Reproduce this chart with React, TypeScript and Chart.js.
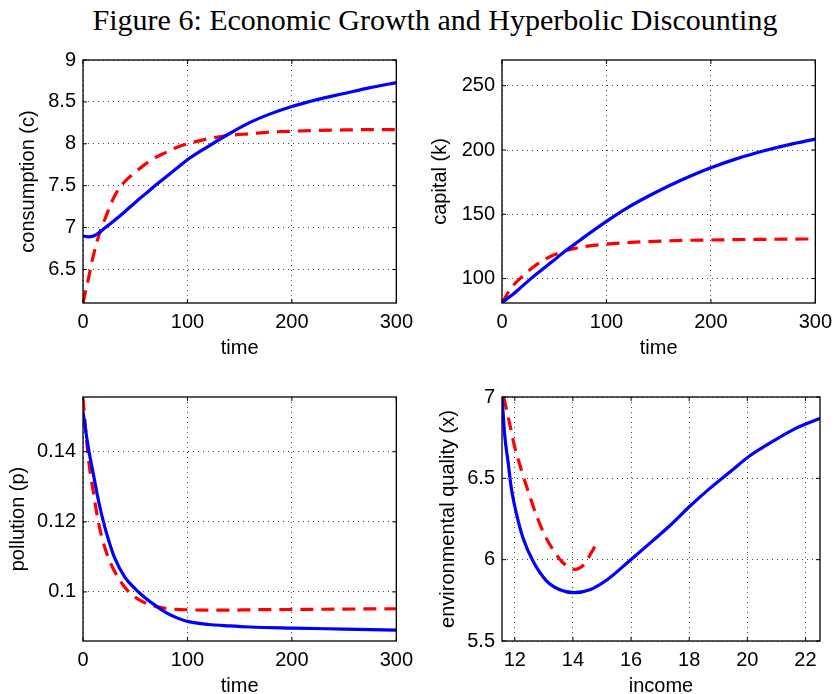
import React, { useEffect, useRef } from 'react';
import { Chart, registerables } from 'chart.js';

Chart.register(...registerables);

const FIGURE_TITLE = 'Figure 6: Economic Growth and Hyperbolic Discounting';

// ---- Panel 1: consumption vs time ----
const timeC = [0, 5, 10, 15, 20, 30, 40, 50, 60, 70, 80, 90, 100, 120, 140, 160, 180, 200, 225, 250, 275, 300];
const consumptionSolid = [6.9, 6.89, 6.9, 6.935, 6.985, 7.085, 7.19, 7.3, 7.405, 7.51, 7.61, 7.71, 7.81, 7.97, 8.12, 8.255, 8.36, 8.445, 8.53, 8.6, 8.67, 8.73];
const consumptionDashed = [6.1, 6.38, 6.67, 6.9, 7.07, 7.37, 7.55, 7.66, 7.76, 7.84, 7.9, 7.96, 8.0, 8.06, 8.1, 8.12, 8.14, 8.15, 8.16, 8.165, 8.17, 8.17];
const consumptionTicks = [6.5, 7, 7.5, 8, 8.5, 9];

// ---- Panel 2: capital vs time ----
const timeK = [0, 5, 10, 20, 30, 40, 50, 60, 70, 80, 100, 120, 140, 160, 180, 200, 225, 250, 275, 300];
const capitalSolid = [81, 84.5, 87.5, 94.5, 101.5, 108, 114.5, 121, 127, 133, 144.5, 155, 164, 172.2, 179.6, 186.2, 193.3, 199.2, 204.2, 208.5];
const capitalDashed = [81, 88, 94, 102, 109, 114.5, 118.5, 121.5, 123.5, 125, 126.8, 128, 128.8, 129.4, 129.8, 130, 130.3, 130.5, 130.7, 130.8];
const capitalTicks = [100, 150, 200, 250];

// ---- Panel 3: pollution vs time ----
const timeP = [0, 5, 10, 15, 20, 25, 30, 40, 50, 60, 70, 80, 90, 100, 120, 140, 160, 200, 250, 300];
const pollutionSolid = [0.1515, 0.1413, 0.1335, 0.1258, 0.1195, 0.1143, 0.1099, 0.1042, 0.1009, 0.0982, 0.096, 0.094, 0.0926, 0.0916, 0.0907, 0.0903, 0.09, 0.0897, 0.0894, 0.0891];
const pollutionDashed = [0.1553, 0.1385, 0.1283, 0.1195, 0.1135, 0.1092, 0.106, 0.1013, 0.0985, 0.0968, 0.0958, 0.0953, 0.095, 0.0949, 0.0948, 0.0948, 0.0949, 0.095, 0.0951, 0.0952];
const pollutionTicks = [0.1, 0.12, 0.14];

// ---- Panel 4: environmental quality vs income ----
const incomeSolid = [11.56, 11.6, 11.65, 11.77, 11.88, 12.06, 12.28, 12.63, 13.09, 13.55, 14.05, 14.58, 15.2, 15.99, 16.77, 17.34, 18.03, 18.72, 19.41, 20.1, 20.9, 21.7, 22.52];
const qualitySolid = [7.0, 6.9, 6.77, 6.6, 6.44, 6.28, 6.135, 5.99, 5.87, 5.815, 5.797, 5.815, 5.88, 6.0, 6.12, 6.21, 6.33, 6.44, 6.54, 6.64, 6.73, 6.81, 6.87];
const incomeDashed = [11.62, 11.83, 12.0, 12.23, 12.46, 12.75, 13.03, 13.32, 13.61, 13.85, 14.05, 14.24, 14.4, 14.53, 14.62, 14.72, 14.76];
const qualityDashed = [7.0, 6.83, 6.69, 6.55, 6.42, 6.27, 6.15, 6.06, 5.99, 5.955, 5.94, 5.95, 5.975, 6.01, 6.04, 6.07, 6.085];
const qualityTicks = [5.5, 6, 6.5, 7];

const timeTicks = [0, 100, 200, 300];
const incomeTicks = [12, 14, 16, 18, 20, 22];

const FONT = '"Liberation Sans", Arial, Helvetica, sans-serif';

const framePlugin = {
  id: 'matlabFrame',
  afterDraw(chart: any) {
    const { ctx, chartArea } = chart;
    const { left, top, right, bottom } = chartArea;
    const xs = chart.scales.x;
    const ys = chart.scales.y;
    ctx.save();
    ctx.strokeStyle = '#000';
    ctx.lineWidth = 1.3;
    ctx.setLineDash([]);
    ctx.strokeRect(left, top, right - left, bottom - top);
    ctx.lineWidth = 1;
    const tl = 4;
    ctx.beginPath();
    xs.ticks.forEach((t: any) => {
      const px = xs.getPixelForValue(t.value);
      ctx.moveTo(px, bottom);
      ctx.lineTo(px, bottom - tl);
      ctx.moveTo(px, top);
      ctx.lineTo(px, top + tl);
    });
    ys.ticks.forEach((t: any) => {
      const py = ys.getPixelForValue(t.value);
      ctx.moveTo(left, py);
      ctx.lineTo(left + tl, py);
      ctx.moveTo(right, py);
      ctx.lineTo(right - tl, py);
    });
    ctx.stroke();
    ctx.restore();
  },
};

type PanelProps = {
  left: number;
  top: number;
  height: number;
  solidX: number[];
  solidY: number[];
  dashedX: number[];
  dashedY: number[];
  xMin: number;
  xMax: number;
  yMin: number;
  yMax: number;
  xTicks: number[];
  yTicks: number[];
  xTitle: string;
  yTitle: string;
  yTitlePad: number;
};

function Panel(p: PanelProps) {
  const ref = useRef<HTMLCanvasElement | null>(null);
  useEffect(() => {
    if (!ref.current) return;
    const toPts = (xs: number[], ys: number[]) => xs.map((x, i) => ({ x, y: ys[i] }));
    const chart = new Chart(ref.current, {
      type: 'line',
      data: {
        datasets: [
          {
            data: toPts(p.solidX, p.solidY),
            borderColor: '#0000ff',
            borderWidth: 3.2,
            pointRadius: 0,
            cubicInterpolationMode: 'monotone',
            fill: false,
            order: 0,
          },
          {
            data: toPts(p.dashedX, p.dashedY),
            borderColor: '#ff0000',
            borderWidth: 3.2,
            borderDash: [13, 8],
            pointRadius: 0,
            cubicInterpolationMode: 'monotone',
            fill: false,
            order: 1,
          },
        ],
      },
      options: {
        responsive: false,
        animation: false,
        events: [],
        layout: { padding: { left: 0, top: 20, right: 19, bottom: 0 } },
        plugins: { legend: { display: false }, tooltip: { enabled: false }, title: { display: false } },
        scales: {
          x: {
            type: 'linear',
            min: p.xMin,
            max: p.xMax,
            afterBuildTicks: (s: any) => {
              s.ticks = p.xTicks.map((v) => ({ value: v }));
            },
            afterFit: (s: any) => {
              s.height = 67;
            },
            grid: { color: '#444', lineWidth: 1, drawTicks: false },
            border: { display: false, dash: [1, 4] },
            ticks: {
              color: '#000',
              padding: 7,
              maxRotation: 0,
              autoSkip: false,
              font: { family: FONT, size: 20 },
              callback: (v: any) => String(v),
            },
            title: {
              display: true,
              text: p.xTitle,
              color: '#000',
              font: { family: FONT, size: 20 },
              padding: { top: 0, bottom: 10 },
            },
          },
          y: {
            type: 'linear',
            min: p.yMin,
            max: p.yMax,
            afterBuildTicks: (s: any) => {
              s.ticks = p.yTicks.map((v) => ({ value: v }));
            },
            afterFit: (s: any) => {
              s.width = 83;
            },
            grid: { color: '#444', lineWidth: 1, drawTicks: false },
            border: { display: false, dash: [1, 4] },
            ticks: {
              color: '#000',
              padding: 7,
              autoSkip: false,
              font: { family: FONT, size: 20 },
              callback: (v: any) => String(v),
            },
            title: {
              display: true,
              text: p.yTitle,
              color: '#000',
              font: { family: FONT, size: 20 },
              padding: { top: p.yTitlePad, bottom: 0 },
            },
          },
        },
      } as any,
      plugins: [framePlugin],
    });
    return () => chart.destroy();
  }, []);
  return (
    <canvas
      ref={ref}
      width={420}
      height={p.height}
      style={{ position: 'absolute', left: p.left, top: p.top, width: 420, height: p.height }}
    />
  );
}

export default function App() {
  return (
    <div
      style={{
        position: 'fixed',
        left: 0,
        top: 0,
        width: 837,
        height: 694,
        overflow: 'hidden',
        background: '#fff',
      }}
    >
      <div
        style={{
          position: 'absolute',
          left: 0,
          top: 5,
          width: 870,
          textAlign: 'center',
          fontFamily: '"Liberation Serif", "Times New Roman", serif',
          fontSize: 30,
          lineHeight: '30px',
          color: '#000',
          whiteSpace: 'nowrap',
        }}
      >
        {FIGURE_TITLE}
      </div>
      <Panel
        left={0}
        top={40}
        height={330}
        solidX={timeC}
        solidY={consumptionSolid}
        dashedX={timeC}
        dashedY={consumptionDashed}
        xMin={0}
        xMax={300}
        yMin={6.1}
        yMax={9}
        xTicks={timeTicks}
        yTicks={consumptionTicks}
        xTitle="time"
        yTitle="consumption (c)"
        yTitlePad={16}
      />
      <Panel
        left={419}
        top={40}
        height={330}
        solidX={timeK}
        solidY={capitalSolid}
        dashedX={timeK}
        dashedY={capitalDashed}
        xMin={0}
        xMax={300}
        yMin={81}
        yMax={270}
        xTicks={timeTicks}
        yTicks={capitalTicks}
        xTitle="time"
        yTitle="capital (k)"
        yTitlePad={9}
      />
      <Panel
        left={0}
        top={377}
        height={331}
        solidX={timeP}
        solidY={pollutionSolid}
        dashedX={timeP}
        dashedY={pollutionDashed}
        xMin={0}
        xMax={300}
        yMin={0.086}
        yMax={0.1556}
        xTicks={timeTicks}
        yTicks={pollutionTicks}
        xTitle="time"
        yTitle="pollution (p)"
        yTitlePad={6}
      />
      <Panel
        left={419}
        top={377}
        height={331}
        solidX={incomeSolid}
        solidY={qualitySolid}
        dashedX={incomeDashed}
        dashedY={qualityDashed}
        xMin={11.56}
        xMax={22.5}
        yMin={5.5}
        yMax={7}
        xTicks={incomeTicks}
        yTicks={qualityTicks}
        xTitle="income"
        yTitle="environmental quality (x)"
        yTitlePad={17}
      />
    </div>
  );
}
